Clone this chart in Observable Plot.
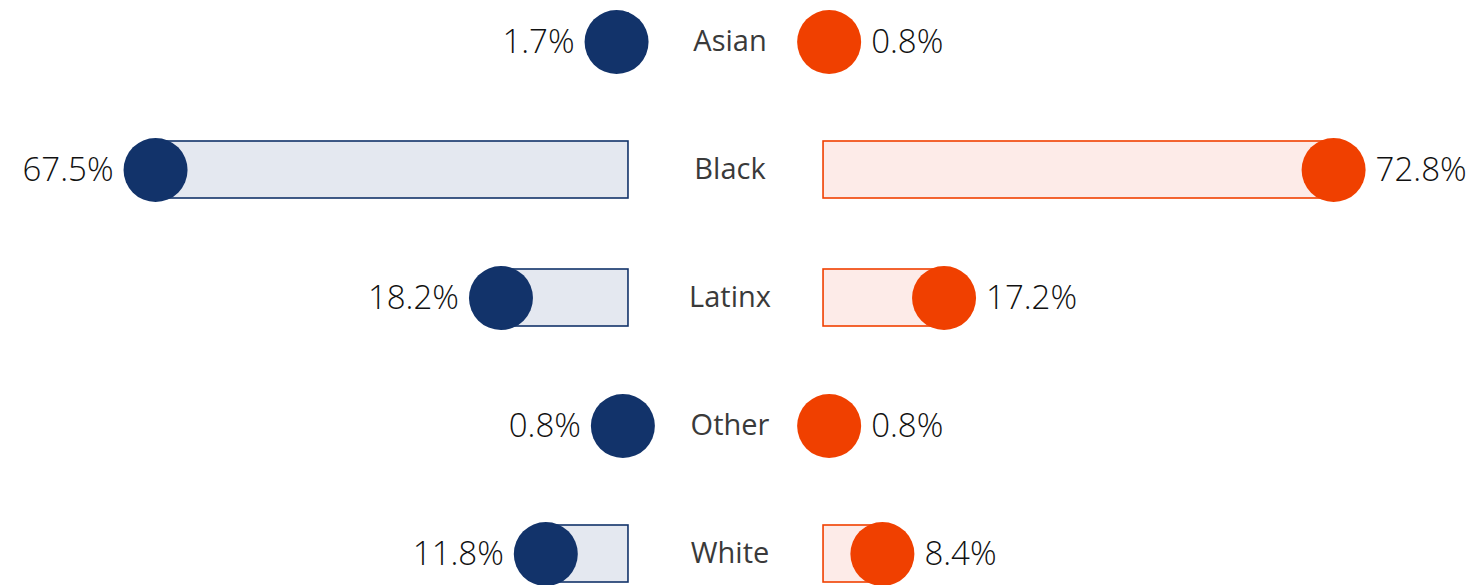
<!DOCTYPE html>
<html>
<head>
<meta charset="utf-8">
<script src="https://cdn.jsdelivr.net/npm/d3@7"></script>
<script src="https://cdn.jsdelivr.net/npm/@observablehq/plot@0.6"></script>
<style>
  html, body { margin: 0; padding: 0; background: #fff; }
  #chart svg { display: block; }
</style>
</head>
<body>
<div id="chart"></div>
<script>
const categories = ["Asian", "Black", "Latinx", "Other", "White"];
const leftValues = [1.7, 67.5, 18.2, 0.8, 11.8];
const rightValues = [0.8, 72.8, 17.2, 0.8, 8.4];

const NAVY = "#12336a", NAVY_LIGHT = "#e4e8f0";
const ORANGE = "#f04000", ORANGE_LIGHT = "#fdebe8";
const HALF_GAP = 13.92; // half of the central label gap, in % units

const rows = categories.map((c, i) => ({cat: c, left: leftValues[i], right: rightValues[i]}));
const fmt = v => v.toFixed(1) + "%";

const chart = Plot.plot({
  width: 1474,
  height: 585,
  margin: 0,
  x: {domain: [-103.55, 106.83], range: [0, 1474], axis: null},
  y: {type: "band", domain: categories, range: [-24.375, 619.375], paddingInner: 0.557, paddingOuter: 0.2785, axis: null},
  style: {fontFamily: "'Open Sans', sans-serif"},
  marks: [
    Plot.barX(rows, {y: "cat", x1: d => -HALF_GAP, x2: d => -HALF_GAP - d.left, fill: NAVY_LIGHT, stroke: NAVY, strokeWidth: 1.6}),
    Plot.barX(rows, {y: "cat", x1: d => HALF_GAP, x2: d => HALF_GAP + d.right, fill: ORANGE_LIGHT, stroke: ORANGE, strokeWidth: 1.6}),
    Plot.dot(rows, {y: "cat", x: d => -HALF_GAP - d.left, r: 32, fill: NAVY}),
    Plot.dot(rows, {y: "cat", x: d => HALF_GAP + d.right, r: 32, fill: ORANGE}),
    Plot.text(rows, {y: "cat", x: d => -HALF_GAP - d.left, text: d => fmt(d.left), dx: -42, textAnchor: "end", fontSize: 33, fontWeight: 300, fill: "#111"}),
    Plot.text(rows, {y: "cat", x: d => HALF_GAP + d.right, text: d => fmt(d.right), dx: 42, textAnchor: "start", fontSize: 33, fontWeight: 300, fill: "#111"}),
    Plot.text(rows, {y: "cat", x: d => 0, text: "cat", dx: 4, fontSize: 29, fontWeight: 500, fill: "#3a3a3a"})
  ]
});
document.getElementById("chart").appendChild(chart);
</script>
</body>
</html>
